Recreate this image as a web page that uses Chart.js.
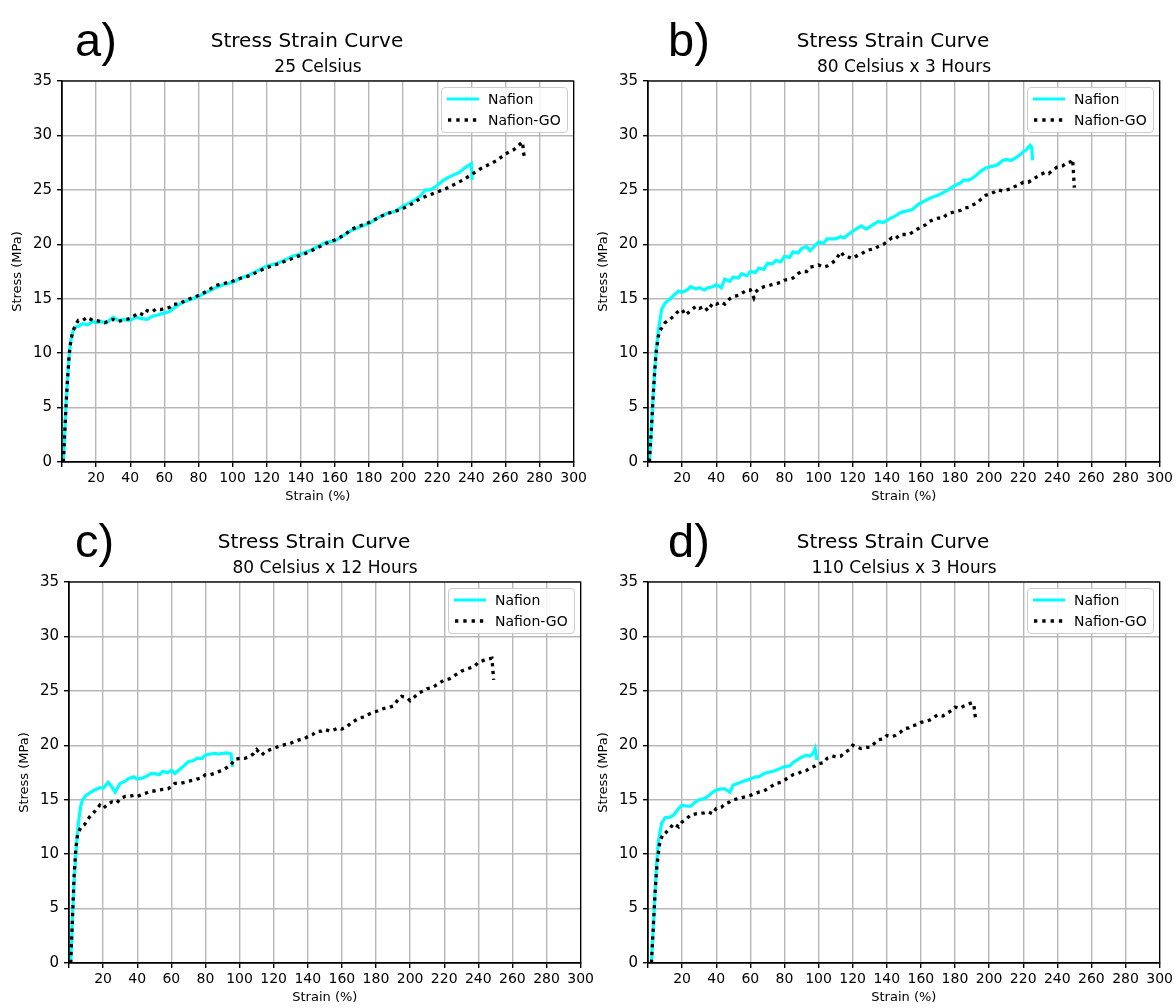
<!DOCTYPE html>
<html>
<head>
<meta charset="utf-8">
<script src="https://cdn.jsdelivr.net/npm/chart.js@4.4.0/dist/chart.umd.min.js"></script>
<style>
  html, body { margin:0; padding:0; background:#fff; }
  body { width:1176px; height:1008px; position:relative; overflow:hidden; font-family:"DejaVu Sans", sans-serif; }
  .panel { position:absolute; }
  .panel canvas { position:absolute; left:0; top:0; }
  .ctext { position:absolute; transform:translate(-50%,-50%); white-space:nowrap; line-height:1; color:#000; }
  .plabel { position:absolute; font-family:"Liberation Sans", Arial, sans-serif; font-size:47px; line-height:1; transform:translateY(-50%); color:#000; }
  .legend { position:absolute; width:125px; height:44px; border:1px solid #cccccc; border-radius:4px; background:rgba(255,255,255,0.85); }
  .legend .row { position:absolute; left:0; width:125px; height:20px; }
  .legend svg { position:absolute; left:4px; top:0; }
  .legend span { position:absolute; left:46px; top:50%; transform:translateY(-50%); font-size:14px; line-height:1; white-space:nowrap; }
</style>
</head>
<body>
<script>
// ---------------- DATA ----------------
const xTickLabels = [20,40,60,80,100,120,140,160,180,200,220,240,260,280,300];
const yTickLabels = [0,5,10,15,20,25,30,35];
const seriesNames = ["Nafion", "Nafion-GO"];
const mainTitle = "Stress Strain Curve";
const subTitles = ["25 Celsius", "80 Celsius x 3 Hours", "80 Celsius x 12 Hours", "110 Celsius x 3 Hours"];
const panelLabels = ["a)", "b)", "c)", "d)"];

// a) 25 Celsius
const aNafionStrain = [0.8,2.3,3.2,4.3,5.3,6.6,8,10,12,15,18,20,23,26,30,33,36,40,43,46,50,53,56,60,63,66,70,75,80,85,90,95,100,105,110,115,120,125,130,135,140,145,150,155,160,165,170,175,180,185,190,195,200,205,210,213,216,220,223,226,230,233,236,238,240,240.5];
const aNafionStress = [0,5,7.5,10,11.3,12.1,12.4,12.5,12.7,12.6,12.9,12.8,12.9,12.8,13.3,13.0,13.1,13.0,13.3,13.2,13.1,13.4,13.5,13.7,13.8,14.2,14.6,14.9,15.2,15.6,16.0,16.3,16.5,16.9,17.2,17.6,18.0,18.2,18.5,18.9,19.1,19.4,19.8,20.2,20.3,20.8,21.3,21.6,21.9,22.4,22.8,23.0,23.5,23.9,24.4,25.0,25.0,25.4,25.8,26.1,26.4,26.6,27.0,27.2,27.4,25.9];
const aGOStrain = [0.8,2.3,3.2,4.3,5.3,6.6,8,9.5,12,15,18,20,23,25,28,30,33,35,38,40,43,45,48,50,53,55,58,60,63,65,68,70,75,80,85,90,95,100,105,110,115,120,125,130,135,140,145,150,155,160,165,170,175,180,185,190,195,200,205,210,215,220,225,230,235,240,245,250,255,260,265,270,271];
const aGOStress = [0,5,7.5,10,11.3,12.1,12.6,13.0,13.0,13.3,13.0,13.0,12.9,12.8,13.0,13.1,12.9,13.0,13.1,13.2,13.5,13.7,13.5,13.9,13.8,14.05,14.0,14.1,14.2,14.5,14.5,14.64,15.0,15.3,15.7,16.2,16.4,16.6,16.9,17.1,17.5,17.85,18.1,18.4,18.7,19.0,19.3,19.7,20.1,20.4,20.8,21.4,21.7,22.0,22.4,22.8,23.0,23.3,23.7,24.2,24.5,24.8,25.1,25.5,25.9,26.4,26.9,27.3,27.7,28.3,28.7,29.4,28.0];

// b) 80 Celsius x 3 Hours
const bNafionStrain = [0.8,2,3,4,4.7,6,8,10,13,15,18,20,23,25,28,30,33,35,38,40,43,45,48,50,53,55,58,60,63,65,68,70,73,75,78,80,83,85,88,90,93,95,98,100,103,105,110,113,115,120,125,128,130,135,138,140,145,148,150,153,155,158,160,165,168,170,175,180,183,185,188,190,193,195,198,200,203,205,208,210,213,215,218,220,222,224,225,225.5];
const bNafionStress = [0,3,6,8.5,10,12,14,14.6,15,15.3,15.7,15.6,15.8,16.1,15.9,16.0,15.8,16.0,16.1,16.3,16.0,16.8,16.6,17.0,16.9,17.3,17.1,17.5,17.4,17.8,17.7,18.25,18.2,18.5,18.4,18.9,18.8,19.3,19.2,19.6,19.8,19.4,19.9,20.2,20.1,20.5,20.5,20.7,20.6,21.2,21.7,21.4,21.6,22.1,22.0,22.2,22.6,22.9,23.0,23.1,23.2,23.6,23.8,24.2,24.4,24.5,24.9,25.4,25.6,25.9,25.9,26.05,26.4,26.7,27.0,27.1,27.2,27.3,27.7,27.8,27.7,27.9,28.2,28.5,28.7,29.1,28.9,27.7];
const bGOStrain = [0.8,2,3,4,4.7,6,7,9,10,12,15,18,20,22,25,28,30,33,35,38,40,43,45,48,50,53,55,58,60,62,63,65,68,70,73,75,78,80,83,85,88,90,93,95,98,100,103,105,108,110,113,115,118,120,123,125,128,130,133,135,138,140,143,145,148,150,153,155,158,160,163,165,168,170,173,175,178,180,183,185,188,190,193,195,198,200,203,205,208,210,213,215,218,220,223,225,228,230,233,235,238,240,243,245,248,249,250];
const bGOStress = [0,3,6,8.5,10,11.5,12.1,12.5,12.8,13.0,13.4,13.9,14.0,13.5,13.9,14.3,14.1,14.3,13.9,14.6,14.5,14.7,14.5,15.0,15.2,15.3,15.5,15.8,15.8,15.1,15.6,15.9,16.1,16.2,16.3,16.4,16.5,16.7,16.8,16.9,17.3,17.5,17.5,17.9,18.0,18.1,17.9,18.0,18.3,18.55,19.3,18.9,18.8,18.7,19.0,19.1,19.4,19.5,19.6,19.8,20.0,20.2,20.6,20.5,20.9,20.9,20.9,21.1,21.4,21.6,21.8,22.1,22.3,22.4,22.4,22.7,22.9,23.0,23.1,23.3,23.4,23.6,23.8,24.1,24.5,24.6,24.8,25.0,24.9,25.0,25.1,25.3,25.5,25.7,25.7,25.9,26.2,26.4,26.6,26.5,26.9,27.1,27.2,27.4,27.6,27.8,25.2];

// c) 80 Celsius x 12 Hours
const cNafionStrain = [1,2,3,4,5,6,7,8,10,13,15,18,20,23,25,27,30,33,35,38,40,43,45,48,50,53,55,58,60,62,65,68,70,73,75,78,80,83,85,88,90,93,95,96];
const cNafionStress = [0,4,7.5,10,12,13.5,14.5,15.0,15.4,15.7,15.9,16.1,16.05,16.6,16.2,15.7,16.5,16.7,16.96,17.1,16.9,17.0,17.1,17.4,17.4,17.3,17.6,17.5,17.7,17.4,17.8,18.2,18.5,18.6,18.8,18.8,19.1,19.2,19.25,19.2,19.25,19.3,19.2,18.0];
const cGOStrain = [1,2,3,4,5,7,9,12,15,18,20,23,25,28,30,33,35,38,40,43,45,48,50,53,55,58,60,62,65,68,70,73,75,78,80,83,85,88,90,93,95,97,100,103,105,108,110,113,115,118,120,123,125,128,130,133,135,138,140,143,145,148,150,153,155,158,160,163,165,168,170,173,175,178,180,183,185,188,190,193,195,198,200,203,205,208,210,213,215,218,220,223,225,228,230,233,235,238,240,243,245,248,249];
const cGOStress = [0,4,8,10.5,11.8,12.5,12.7,13.4,13.9,14.5,14.2,14.6,14.8,14.7,15.1,15.3,15.3,15.4,15.3,15.5,15.6,15.8,15.8,15.9,15.95,16.0,16.2,16.5,16.5,16.6,16.7,16.8,16.9,17.0,17.3,17.3,17.4,17.6,17.7,18.0,18.2,18.7,18.8,18.8,18.9,19.2,19.6,19.1,19.4,19.6,19.7,19.9,20.0,20.1,20.2,20.4,20.5,20.6,20.8,21.0,21.25,21.3,21.45,21.3,21.4,21.6,21.5,21.7,22.0,22.3,22.5,22.6,22.8,23.0,23.1,23.3,23.4,23.5,23.6,24.2,24.5,24.4,24.1,24.5,24.8,25.0,25.2,25.3,25.5,25.8,26.0,26.1,26.3,26.6,26.8,27.0,27.1,27.3,27.6,27.8,27.9,28.0,26.0];

// d) 110 Celsius x 3 Hours
const dNafionStrain = [2,3,4,5,6,7,8,10,13,15,18,20,23,25,28,30,33,35,38,40,43,45,48,50,53,55,58,60,63,65,68,70,73,75,78,80,83,85,88,90,93,95,97,98,99];
const dNafionStress = [0,3,6,9,11,12,12.8,13.35,13.4,13.6,14.2,14.5,14.4,14.4,14.8,15.0,15.1,15.3,15.7,15.9,16.0,16.0,15.7,16.35,16.5,16.66,16.8,16.9,17.1,17.1,17.4,17.5,17.6,17.7,17.9,18.04,18.1,18.4,18.7,18.9,19.1,19.0,19.3,19.7,18.65];
const dGOStrain = [2,3,4,5,6,7,9,10,13,15,18,20,23,25,28,30,33,35,38,40,43,45,48,50,53,55,58,60,63,65,68,70,73,75,78,80,83,85,88,90,93,95,98,100,103,105,108,110,113,115,118,120,123,125,128,130,133,135,138,140,143,145,148,150,153,155,158,160,163,165,168,170,173,175,178,180,183,185,188,190,191,192];
const dGOStress = [0,3,6,8.5,10,11.2,11.9,11.9,12.4,12.8,12.5,12.95,13.3,13.6,13.7,13.75,13.8,13.9,13.7,14.2,14.3,14.6,14.8,15.0,15.1,15.2,15.3,15.4,15.6,15.7,15.8,16.0,16.3,16.5,16.6,16.8,17.1,17.3,17.4,17.6,17.7,17.9,18.1,18.3,18.4,18.8,19.0,18.95,19.0,19.3,19.6,20.0,19.8,19.7,19.8,19.8,20.2,20.5,20.6,20.9,20.8,20.9,21.2,21.5,21.6,21.8,21.9,22.1,22.2,22.3,22.6,22.8,22.7,22.9,23.2,23.5,23.4,23.6,23.8,23.9,23.8,22.5];

// --------------- LAYOUT ----------------
const panels = [
  { left:0,   top:0,   w:590, h:510, lblX:75, nS:aNafionStrain, nY:aNafionStress, gS:aGOStrain, gY:aGOStress },
  { left:586, top:0,   w:590, h:510, lblX:82, nS:bNafionStrain, nY:bNafionStress, gS:bGOStrain, gY:bGOStress },
  { left:7,   top:501, w:590, h:507, lblX:68, nS:cNafionStrain, nY:cNafionStress, gS:cGOStrain, gY:cGOStress },
  { left:586, top:501, w:590, h:507, lblX:82, nS:dNafionStrain, nY:dNafionStress, gS:dGOStrain, gY:dGOStress }
];

const CYAN = '#00ffff';
const FONT = '"DejaVu Sans", sans-serif';

const framePlugin = {
  id: 'frame',
  afterDraw(chart) {
    const {ctx, chartArea:a} = chart;
    ctx.save();
    ctx.strokeStyle = '#000';
    ctx.lineWidth = 1.3;
    ctx.strokeRect(a.left, a.top, a.right - a.left, a.bottom - a.top);
    ctx.restore();
  }
};

function pts(xs, ys) { return xs.map((x, i) => ({x: x, y: ys[i]})); }

panels.forEach((p, idx) => {
  const div = document.createElement('div');
  div.className = 'panel';
  div.style.left = p.left + 'px'; div.style.top = p.top + 'px';
  div.style.width = p.w + 'px'; div.style.height = p.h + 'px';
  document.body.appendChild(div);

  const cv = document.createElement('canvas');
  cv.width = p.w; cv.height = p.h;
  cv.style.width = p.w + 'px'; cv.style.height = p.h + 'px';
  div.appendChild(cv);

  const lbl = document.createElement('div');
  lbl.className = 'plabel'; lbl.textContent = panelLabels[idx];
  lbl.style.left = p.lblX + 'px'; lbl.style.top = '39px';
  div.appendChild(lbl);

  const t = document.createElement('div');
  t.className = 'ctext'; t.textContent = mainTitle;
  t.style.fontSize = '20px'; t.style.left = '307px'; t.style.top = '40px';
  div.appendChild(t);

  const st = document.createElement('div');
  st.className = 'ctext'; st.textContent = subTitles[idx];
  st.style.fontSize = '17px'; st.style.left = '318px'; st.style.top = '66px';
  div.appendChild(st);

  const lg = document.createElement('div');
  lg.className = 'legend';
  lg.style.left = '441px'; lg.style.top = '87px';
  lg.innerHTML =
    '<div class="row" style="top:1px"><svg width="36" height="20"><line x1="1" y1="10" x2="33" y2="10" stroke="' + CYAN + '" stroke-width="3"/></svg><span>' + seriesNames[0] + '</span></div>' +
    '<div class="row" style="top:22px"><svg width="36" height="20"><line x1="2" y1="10" x2="34" y2="10" stroke="#000" stroke-width="3.3" stroke-dasharray="3.3 5"/></svg><span>' + seriesNames[1] + '</span></div>';
  div.appendChild(lg);

  new Chart(cv, {
    type: 'line',
    data: {
      datasets: [
        { label: seriesNames[0], data: pts(p.nS, p.nY), borderColor: CYAN, borderWidth: 3.2, pointRadius: 0, tension: 0, order: 1, fill: false },
        { label: seriesNames[1], data: pts(p.gS, p.gY), borderColor: '#000', borderWidth: 3.3, borderDash: [3.3, 4.5], pointRadius: 0, tension: 0, order: 0, fill: false }
      ]
    },
    options: {
      responsive: false,
      animation: false,
      devicePixelRatio: 1,
      layout: { padding: { left: 10, top: 81, right: 15, bottom: p.h - 504 } },
      plugins: { legend: { display: false }, tooltip: { enabled: false }, title: { display: false } },
      scales: {
        x: {
          type: 'linear', min: 0, max: 300,
          afterBuildTicks(s) { s.ticks = [0].concat(xTickLabels).map(v => ({value: v})); },
          afterFit(s) { s.height = 42; },
          ticks: { font: { family: FONT, size: 14 }, color: '#000', padding: 3, maxRotation: 0, autoSkip: false,
                   callback: v => (v === 0 ? '' : String(v)) },
          grid: { color: '#b8b8b8', lineWidth: 1.4, tickLength: 5, tickColor: '#000', drawTicks: true },
          border: { display: true, color: '#000', width: 1.3 },
          title: { display: true, text: 'Strain (%)', font: { family: FONT, size: 13 }, color: '#000', padding: 0 }
        },
        y: {
          type: 'linear', min: 0, max: 35,
          afterBuildTicks(s) { s.ticks = yTickLabels.map(v => ({value: v})); },
          afterFit(s) { s.width = 52; },
          ticks: { font: { family: FONT, size: 15 }, color: '#000', padding: 5, autoSkip: false },
          grid: { color: '#b8b8b8', lineWidth: 1.4, tickLength: 5, tickColor: '#000', drawTicks: true },
          border: { display: true, color: '#000', width: 1.3 },
          title: { display: true, text: 'Stress (MPa)', font: { family: FONT, size: 13 }, color: '#000', padding: 0 }
        }
      }
    },
    plugins: [framePlugin]
  });
});
</script>
</body>
</html>
